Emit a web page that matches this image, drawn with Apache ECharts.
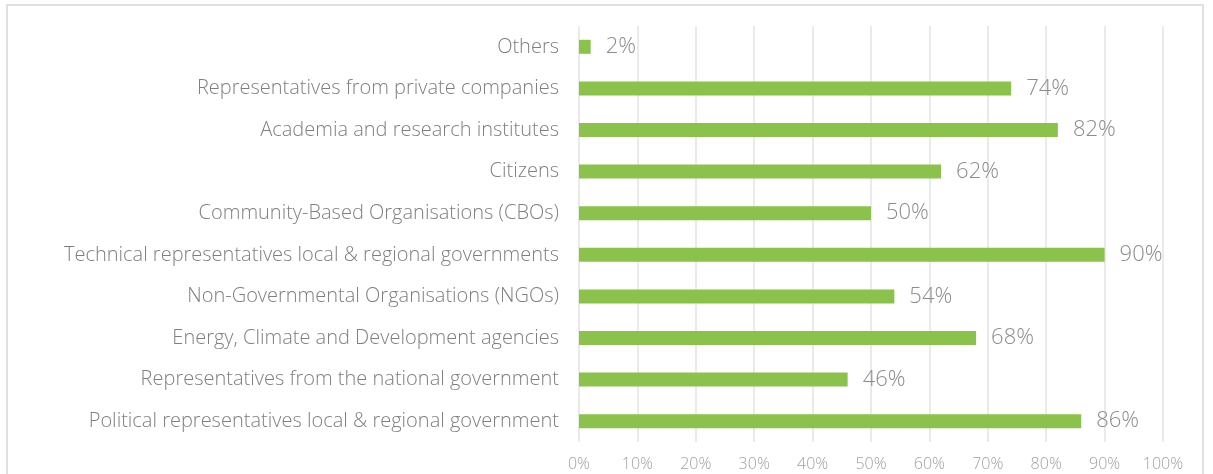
<!DOCTYPE html>
<html>
<head>
<meta charset="utf-8">
<script src="https://cdn.jsdelivr.net/npm/echarts@6/dist/echarts.min.js"></script>
<style>
html,body{margin:0;padding:0;background:#fff;overflow:hidden;}
#chart{position:absolute;left:0;top:0;width:1213px;height:474px;}
#frame{position:absolute;left:6px;top:4px;width:1198px;height:480px;border:2px solid #e0e0e0;box-sizing:border-box;pointer-events:none;}
</style>
</head>
<body>
<div id="chart"></div>
<div id="frame"></div>
<script>
const categories = [
  "Political representatives local & regional government",
  "Representatives from the national government",
  "Energy, Climate and Development agencies",
  "Non-Governmental Organisations (NGOs)",
  "Technical representatives local & regional governments",
  "Community-Based Organisations (CBOs)",
  "Citizens",
  "Academia and research institutes",
  "Representatives from private companies",
  "Others"
];
const values = [86, 46, 68, 54, 90, 50, 62, 82, 74, 2];
const xTicks = [0, 10, 20, 30, 40, 50, 60, 70, 80, 90, 100];

const font = "'Open Sans'";
const chart = echarts.init(document.getElementById('chart'));
chart.setOption({
  animation: false,
  grid: { left: 579, right: 50, top: 26, bottom: 32, containLabel: false },
  xAxis: {
    type: 'value', min: 0, max: 100, interval: 10,
    axisLine: { show: false }, axisTick: { show: false },
    splitLine: { lineStyle: { color: '#e3e3e3', width: 1.5 } },
    axisLabel: { color: '#a0a0a0', fontFamily: font, fontWeight: 300, fontSize: 16, margin: 14,
      formatter: v => v + '%' }
  },
  yAxis: {
    type: 'category', data: categories,
    axisLine: { show: false }, axisTick: { show: false },
    axisLabel: { color: '#7f7f7f', fontFamily: font, fontWeight: 300, fontSize: 20, margin: 20 }
  },
  series: [{
    type: 'bar', data: values, barWidth: 14,
    itemStyle: { color: '#8BC24B' },
    label: { show: true, position: 'right', distance: 15, formatter: p => p.value + '%',
      color: '#8c8c8c', fontFamily: font, fontWeight: 300, fontSize: 22 }
  }]
});
</script>
</body>
</html>
